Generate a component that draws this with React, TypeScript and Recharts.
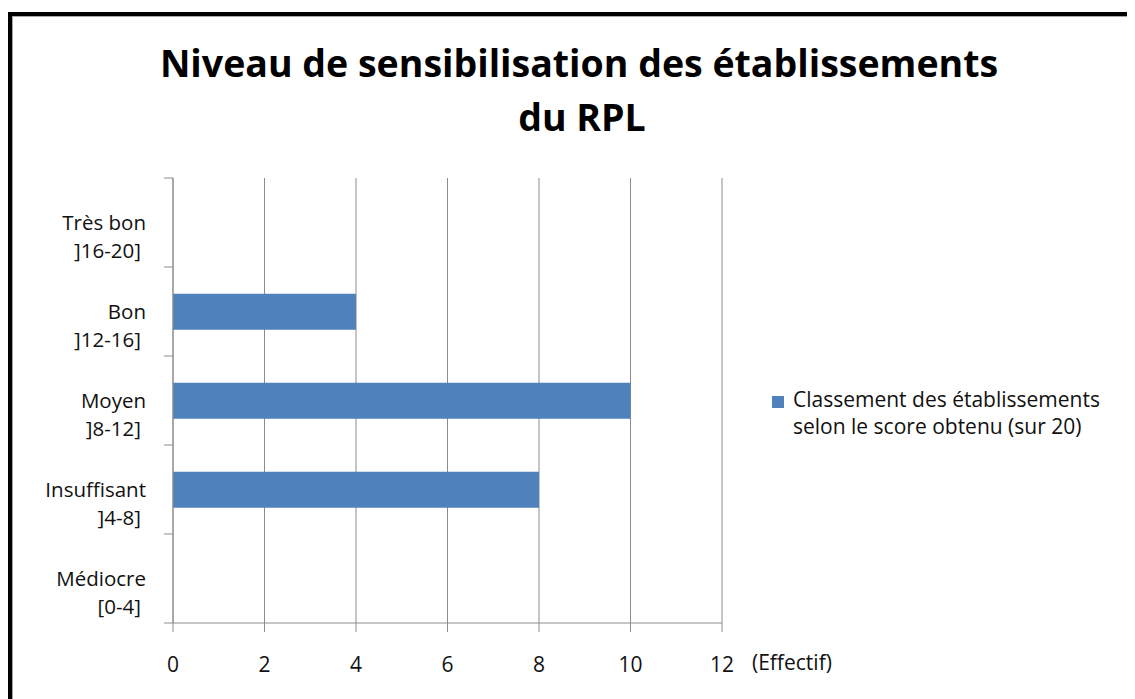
import React from "react";
import { BarChart, Bar, XAxis, YAxis, CartesianGrid, Legend } from "recharts";

// niveaux (haut -> bas), libellé sur deux lignes
const categories = [
  "Très bon\n]16-20]",
  "Bon\n]12-16]",
  "Moyen\n]8-12]",
  "Insuffisant\n]4-8]",
  "Médiocre\n[0-4]",
];
const effectifs = [0, 4, 10, 8, 0];
const xTicks = [0, 2, 4, 6, 8, 10, 12];

const seriesName = "Classement des établissements selon le score obtenu (sur 20)";
const legendLines = ["Classement des établissements", "selon le score obtenu (sur 20)"];
const titleLines = ["Niveau de sensibilisation des établissements", "du RPL"];
const axisUnit = "(Effectif)";

const data = categories.map((niveau, i) => ({ niveau, effectif: effectifs[i] }));

const FONT = "'Open Sans', 'Noto Sans', sans-serif";
const FS = 21;
const BAR = "#4F81BD";
const GRID = "#8c8c8c";
const TXT = "#111";

const NiveauTick = (props: any) => {
  const { x, y, payload, index, visibleTicksCount } = props;
  const [l1, l2] = String(payload.value).split("\n");
  const half = payload.offset ?? 0;
  return (
    <g>
      <line x1={x} x2={x + 9} y1={y - half} y2={y - half} stroke={GRID} />
      {index === visibleTicksCount - 1 && (
        <line x1={x} x2={x + 9} y1={y + half} y2={y + half} stroke={GRID} />
      )}
      <text y={y + 7} textAnchor="end" fontFamily={FONT} fontSize={20.5} fill={TXT}>
        <tspan x={x - 18}>{l1}</tspan>
        <tspan x={x - 23} dy={28}>
          {l2}
        </tspan>
      </text>
    </g>
  );
};

const LegendBox = (props: any) => {
  const color = props.payload?.[0]?.color ?? BAR;
  return (
    <div style={{ position: "relative", paddingLeft: 21, fontFamily: FONT, fontSize: FS, lineHeight: "27px", color: TXT, whiteSpace: "nowrap" }}>
      <span style={{ position: "absolute", left: 0, top: 10, width: 12, height: 12, background: color }} />
      <div>{legendLines[0]}</div>
      <div>{legendLines[1]}</div>
    </div>
  );
};

const EffectifLabel = (props: any) => {
  const vb = props.viewBox;
  return (
    <text x={vb.x + vb.width + 30} y={vb.y + 47} fontFamily={FONT} fontSize={FS} fill={TXT}>
      {axisUnit}
    </text>
  );
};

export default function App() {
  return (
    <div style={{ position: "relative", width: 1127, height: 691, fontFamily: FONT, overflow: "hidden" }}>
      {/* cadre */}
      <div
        style={{
          position: "absolute",
          left: 0,
          top: 4,
          width: 1140,
          height: 700,
          borderTop: "4px solid #000",
          borderLeft: "4px solid #000",
        }}
      />
      <div
        style={{
          position: "absolute",
          left: 4,
          top: 8,
          width: 1140,
          height: 700,
          borderTop: "1px solid #a6a6a6",
          borderLeft: "1px solid #a6a6a6",
        }}
      />

      <div style={{ position: "absolute", left: 0, top: 0 }}>
        <BarChart
          width={1127}
          height={691}
          data={data}
          layout="vertical"
          barCategoryGap="30%"
          margin={{ top: 170, right: 413, bottom: 36, left: 15 }}
        >
          <CartesianGrid horizontal={false} stroke={GRID} />
          <XAxis
            type="number"
            domain={[0, 12]}
            ticks={xTicks}
            interval={0}
            height={40}
            tickSize={9}
            tickMargin={25}
            stroke={GRID}
            tick={{ fontFamily: FONT, fontSize: FS, fill: TXT }}
            label={EffectifLabel}
          />
          <YAxis
            type="category"
            dataKey="niveau"
            width={150}
            tickSize={9}
            tickMargin={0}
            tickLine={false}
            stroke={GRID}
            interval={0}
            tick={NiveauTick}
          />
          <Legend
            layout="vertical"
            align="center"
            verticalAlign="middle"
            wrapperStyle={{ left: 764, top: 378, width: 345 }}
            content={LegendBox}
          />
          <Bar dataKey="effectif" name={seriesName} fill={BAR} isAnimationActive={false} />
        </BarChart>
      </div>

      {/* titre */}
      <svg
        width={1127}
        height={160}
        style={{ position: "absolute", left: 0, top: 0, pointerEvents: "none" }}
      >
        <text textAnchor="middle" fontFamily={FONT} fontWeight={700} fontSize={37.5} fill="#000" y={69}>
          <tspan x={571}>{titleLines[0]}</tspan>
          <tspan x={574} dy={54}>
            {titleLines[1]}
          </tspan>
        </text>
      </svg>
    </div>
  );
}
